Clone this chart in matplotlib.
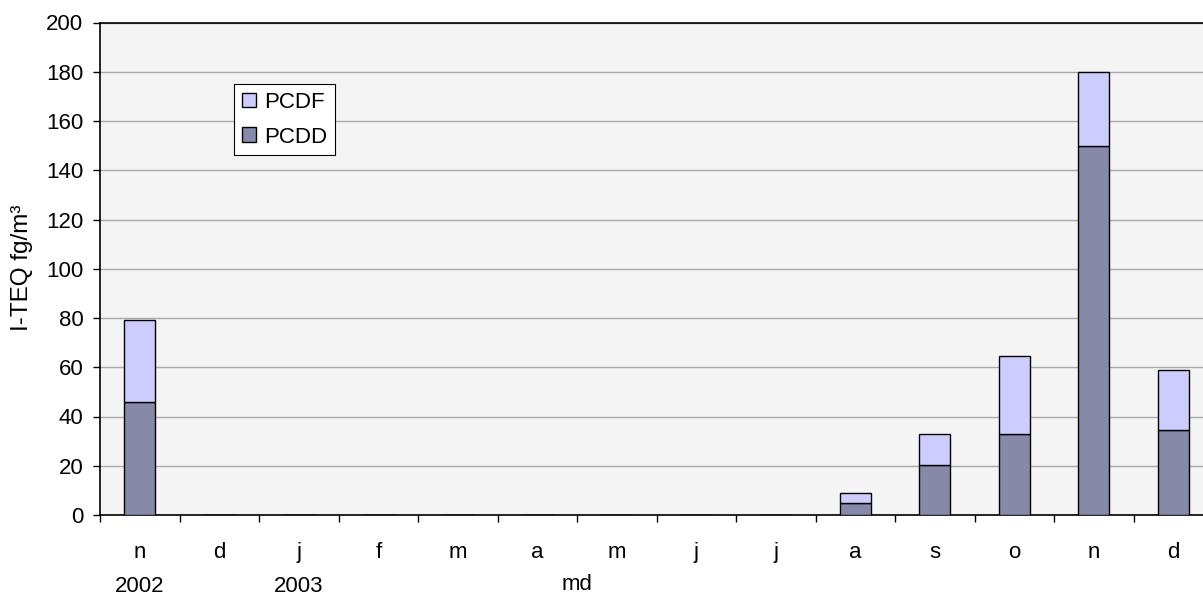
import numpy as np
import matplotlib.pyplot as plt

plt.rcParams['font.family'] = ['Liberation Sans', 'DejaVu Sans']

months = ['n', 'd', 'j', 'f', 'm', 'a', 'm', 'j', 'j', 'a', 's', 'o', 'n', 'd']
pcdd = [45.7, 0, 0, 0, 0, 0, 0, 0, 0, 5.0, 20.2, 32.8, 149.8, 34.7]
pcdf = [33.3, 0, 0, 0, 0, 0, 0, 0, 0, 3.8, 12.6, 31.6, 30.3, 24.0]
year_labels = {0: '2002', 2: '2003'}

fig = plt.figure(figsize=(12.03, 5.97), dpi=100)
ax = fig.add_axes([100 / 1203, 82 / 597, 1113 / 1203, 492.5 / 597])
ax.set_facecolor('#F4F4F4')

x = np.arange(len(months))
ax.bar(x, pcdd, width=0.39, color='#8689A8', edgecolor='black', linewidth=1, label='PCDD', zorder=3)
ax.bar(x, pcdf, width=0.39, bottom=pcdd, color='#CCCCFF', edgecolor='black', linewidth=1, label='PCDF', zorder=3)

ax.set_xlim(-0.5, len(months) - 0.5)
ax.set_ylim(0, 200)
ax.set_yticks(np.arange(0, 201, 20))
ax.yaxis.grid(True, color='#A8A8A8', linewidth=1, zorder=0)
ax.tick_params(axis='y', labelsize=16, length=5, width=1, direction='out', pad=7)

# month labels, years and "md" as text under the axis
ax.set_xticks([])
ax.set_xticks(np.arange(-0.5, len(months), 1), minor=True)
ax.tick_params(axis='x', which='minor', length=5, width=1, direction='out', labelbottom=False)
trans = ax.get_xaxis_transform()
for i, m in enumerate(months):
    ax.text(i, -0.0873, m, transform=trans, ha='center', va='baseline', fontsize=16)
for i, lab in year_labels.items():
    ax.text(i, -0.1563, lab, transform=trans, ha='center', va='baseline', fontsize=16)
ax.text(5.5, -0.152, 'md', transform=trans, ha='center', va='baseline', fontsize=16)

fig.text(22 / 1203, (597 - 268) / 597, 'I-TEQ fg/m³', rotation=90, ha='center', va='center', fontsize=17.5)

for side in ['left', 'bottom', 'top']:
    ax.spines[side].set_color('black')
    ax.spines[side].set_linewidth(1.2)
ax.spines['right'].set_visible(False)

handles, labels = ax.get_legend_handles_labels()
leg = ax.legend(handles[::-1], labels[::-1], loc='upper left',
                bbox_to_anchor=((234 - 100) / 1113, (515 - 84) / 492.5),
                fontsize=16, frameon=True, fancybox=False, edgecolor='black',
                framealpha=1, handlelength=0.65, handleheight=0.65, handletextpad=0.36,
                borderpad=0.35, labelspacing=0.62, borderaxespad=0)
leg.get_frame().set_linewidth(0.8)

fig.savefig('out.png', dpi=100)
